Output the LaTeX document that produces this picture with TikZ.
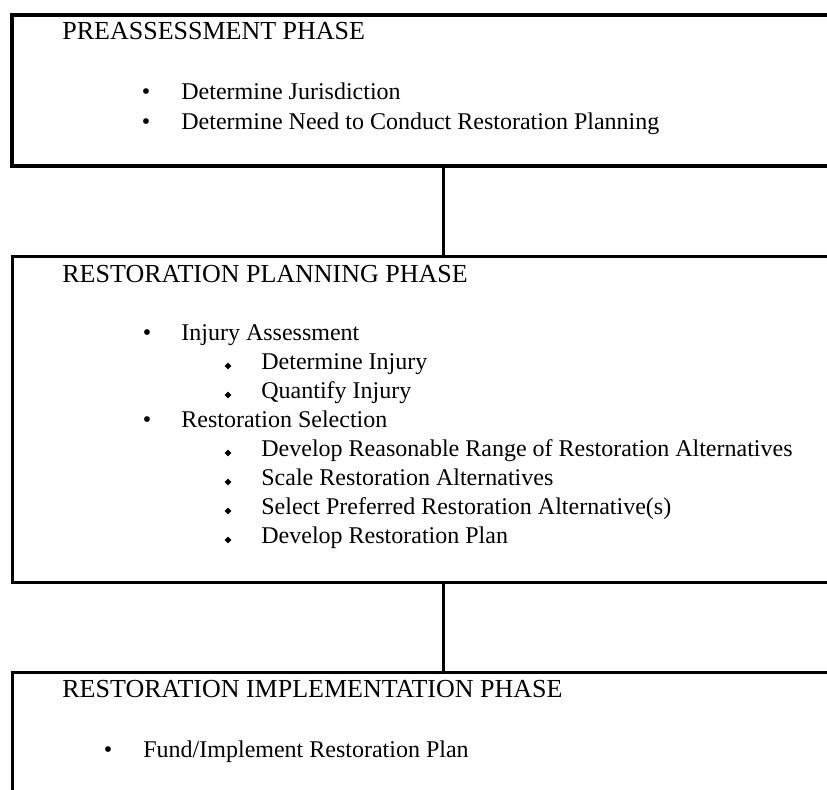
\documentclass[tikz,border=0pt]{standalone}
\usepackage{fontspec}
\setmainfont{Liberation Serif}
\usetikzlibrary{shapes.geometric}
\begin{document}
\begin{tikzpicture}[x=0.5pt,y=-0.5pt,
  phase/.style={draw=black, line width=1.5pt, rectangle, inner sep=0pt, minimum width=431pt},
  head/.style={anchor=base west, inner sep=0pt, font=\fontsize{13}{15}\selectfont},
  txt/.style={anchor=base west, inner sep=0pt, font=\fontsize{12}{14}\selectfont},
  dot/.style={anchor=base, inner sep=0pt, font=\fontsize{12}{14}\selectfont},
  subdot/.style={diamond, fill=black, inner sep=0pt, minimum size=3.6pt},
  link/.style={draw=black, line width=1.5pt}]
\useasboundingbox (0,0) rectangle (827,790);
\clip (0,0) rectangle (827,790);
% boxes
\node[phase, line width=2pt, minimum height=75.5pt] (b1) at (443,90.5) {};
\node[phase, minimum height=163pt] (b2) at (443,420) {};
\node[phase, minimum height=88.5pt] (b3) at (443,761.5) {};
% connectors
\draw[link] (b1.south) -- (b2.north);
\draw[link] (b2.south) -- (b3.north);
% box 1
\node[head] (t1) at (62,40) {PREASSESSMENT PHASE};
\node[dot] (d11) at (146,100) {•};
\node[txt] (i11) at (181,100) {Determine Jurisdiction};
\node[dot] (d12) at (146,130) {•};
\node[txt] (i12) at (181,130) {Determine Need to Conduct Restoration Planning};
% box 2
\node[head] (t2) at (62,283) {RESTORATION PLANNING PHASE};
\node[dot] (d21) at (147,341) {•};
\node[txt] (i21) at (181,341) {Injury Assessment};
\node[subdot] (s21) at (228,366) {};
\node[txt] (i22) at (261,370) {Determine Injury};
\node[subdot] (s22) at (228,395) {};
\node[txt] (i23) at (261,399) {Quantify Injury};
\node[dot] (d24) at (147,428) {•};
\node[txt] (i24) at (181,428) {Restoration Selection};
\node[subdot] (s25) at (228,453) {};
\node[txt] (i25) at (261,457) {Develop Reasonable Range of Restoration Alternatives};
\node[subdot] (s26) at (228,482) {};
\node[txt] (i26) at (261,486) {Scale Restoration Alternatives};
\node[subdot] (s27) at (228,511) {};
\node[txt] (i27) at (261,515) {Select Preferred Restoration Alternative(s)};
\node[subdot] (s28) at (228,540) {};
\node[txt] (i28) at (261,544) {Develop Restoration Plan};
% box 3
\node[head] (t3) at (62,698) {RESTORATION IMPLEMENTATION PHASE};
\node[dot] (d31) at (108,758) {•};
\node[txt] (i31) at (143,758) {Fund/Implement Restoration Plan};
\end{tikzpicture}
\end{document}
